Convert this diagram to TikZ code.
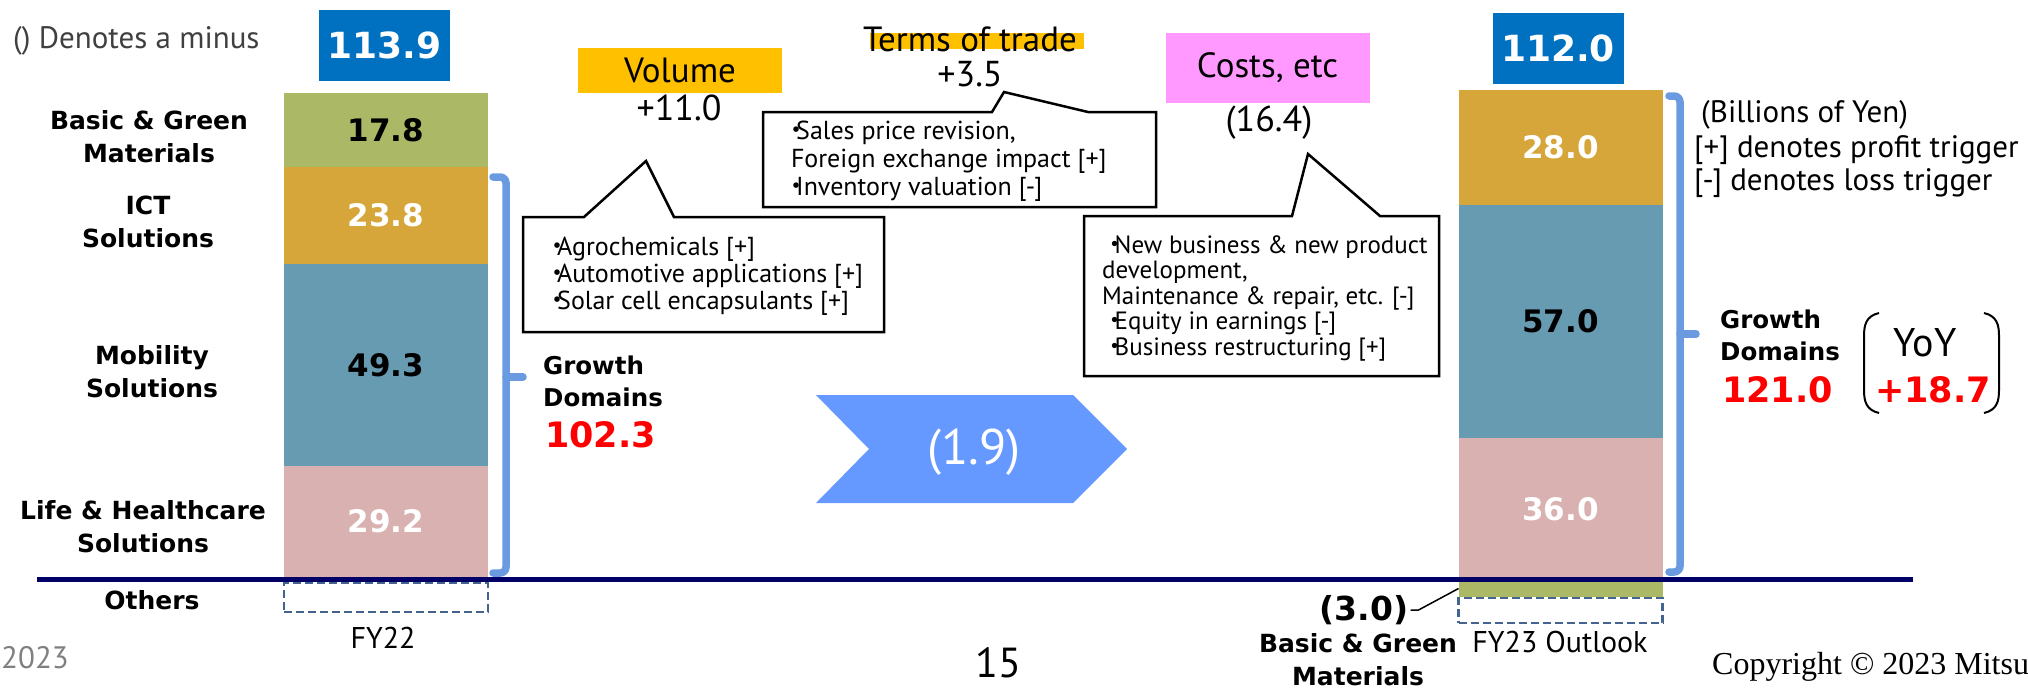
\documentclass[tikz,border=0pt]{standalone}
\usepackage{fontspec}
\setmainfont{PT Sans}
\newfontfamily\dvs{DejaVu Sans}
\newfontfamily\tms{Liberation Serif}
\newfontfamily\cjk{Noto Sans CJK JP}
\newcommand\itemdot{\makebox[0.5em][l]{\cjk ・}}
\definecolor{bgreen}{RGB}{171,185,102}
\definecolor{ictgold}{RGB}{214,166,59}
\definecolor{mobteal}{RGB}{103,155,178}
\definecolor{lifepink}{RGB}{218,177,177}
\definecolor{tblue}{RGB}{0,112,192}
\definecolor{volgold}{RGB}{255,192,0}
\definecolor{costpink}{RGB}{255,153,255}
\definecolor{chevblue}{RGB}{102,153,255}
\definecolor{bracecol}{RGB}{106,155,224}
\definecolor{basenavy}{RGB}{0,0,102}
\definecolor{dashcol}{RGB}{68,100,143}
\definecolor{notegray}{RGB}{64,64,64}
\begin{document}
\begin{tikzpicture}[x=1pt,y=-1pt]
\tikzstyle{seg} = [minimum width=204, inner sep=0, outer sep=0, font=\dvs\bfseries\fontsize{31}{31}\selectfont]
\tikzstyle{total} = [fill=tblue, text=white, minimum width=131, minimum height=71, inner sep=0, font=\dvs\bfseries\fontsize{36}{36}\selectfont]
\tikzstyle{lab} = [align=center, font=\dvs\bfseries\fontsize{25}{33}\selectfont]
\tikzstyle{bubble} = [draw=black, line width=2.5, fill=white]
\tikzstyle{note} = [align=left, anchor=west, inner sep=0]
\tikzstyle{factor} = [minimum width=204, inner sep=0, font=\fontsize{35}{35}\selectfont]
\tikzstyle{val} = [font=\fontsize{36}{36}\selectfont]
\tikzstyle{brace} = [draw=bracecol, line width=7.5, rounded corners=6, line cap=round]
\tikzstyle{others} = [draw=dashcol, line width=2.5, dash pattern=on 8 off 4, minimum width=204, inner sep=0]
\tikzstyle{growlab} = [align=left, anchor=west, inner sep=0, font=\dvs\bfseries\fontsize{24.5}{32}\selectfont]
\tikzstyle{redval} = [text=red, inner sep=0, font=\dvs\bfseries\fontsize{35}{35}\selectfont]
\tikzstyle{side} = [anchor=west, inner sep=0, font=\fontsize{31}{31}\selectfont]

\useasboundingbox (0,0) rectangle (2028,689);

% FY22 bar
\node[total] (t22) at (384.5,45.5) {113.9};
\node[seg, fill=bgreen, minimum height=74] (l1) at (386,130) {17.8};
\node[seg, fill=ictgold, minimum height=97, text=white] (l2) at (386,215.5) {23.8};
\node[seg, fill=mobteal, minimum height=202] (l3) at (386,365) {49.3};
\node[seg, fill=lifepink, minimum height=111, text=white] (l4) at (386,521.5) {29.2};
\node[others, minimum height=29] (l0) at (386,597.5) {};
\node[font=\fontsize{30}{30}\selectfont] (fy22) at (383,638) {FY22};

\node[lab] (bg) at (149,137) {Basic \& Green\\Materials};
\node[lab] (ict) at (148,222) {ICT\\Solutions};
\node[lab] (mob) at (152,372) {Mobility\\Solutions};
\node[lab] (life) at (143,527) {Life \& Healthcare\\Solutions};
\node[lab] (oth) at (152,600) {Others};
\node[anchor=west, inner sep=0, text=notegray, font=\fontsize{31}{31}\selectfont] (minus) at (13,41) {() Denotes a minus};

% FY23 bar
\node[total] (t23) at (1558,48) {112.0};
\node[seg, fill=ictgold, minimum height=115, text=white] (r2) at (1560.5,147.5) {28.0};
\node[seg, fill=mobteal, minimum height=233] (r3) at (1560.5,321.5) {57.0};
\node[seg, fill=lifepink, minimum height=142, text=white] (r4) at (1560.5,509) {36.0};
\node[seg, fill=bgreen, minimum height=17] (r1) at (1560.5,588.5) {};
\node[others, minimum height=25] (r0) at (1560.5,610.5) {};
\node[font=\fontsize{30}{30}\selectfont] (fy23) at (1560,642) {FY23 Outlook};
\node[inner sep=2, font=\dvs\bfseries\fontsize{33}{33}\selectfont] (m30) at (1364,610) {(3.0)};
\node[lab] (bg23) at (1358,660) {Basic \& Green\\Materials};
\draw[line width=1.5] (m30.east) -- ++(8,0) -- (r1.west);

% base line
\draw[basenavy, line width=5] (37,579) -- (1913,579);

% growth domains braces
\draw[brace] (493,177) -- (506,177) -- (506,573) -- (493,573);
\draw[brace] (506,377) -- (523,377);
\draw[brace] (1669,96) -- (1680,96) -- (1680,572) -- (1669,572);
\draw[brace] (1680,334) -- (1696,334);
\node[growlab] (gd22) at (543,381) {Growth\\Domains};
\node[redval, anchor=west] (v22) at (545,435) {102.3};
\node[growlab] (gd23) at (1720,335) {Growth\\Domains};
\node[redval, anchor=west] (v23) at (1722,390) {121.0};
\node[font=\fontsize{40}{40}\selectfont] (yoy) at (1925,343) {YoY};
\node[redval] (dyoy) at (1933,390) {+18.7};
\draw[line width=2] (1879,313) .. controls (1866,316) and (1864,325) .. (1864,336) -- (1864,390) .. controls (1864,401) and (1866,410) .. (1879,413);
\draw[line width=2] (1984,313) .. controls (1997,316) and (1999,325) .. (1999,336) -- (1999,390) .. controls (1999,401) and (1997,410) .. (1984,413);

% factors
\node[factor, fill=volgold, minimum height=45] (vol) at (680,70.5) {Volume};
\node[val] (dvol) at (679,108) {+11.0};
\fill[volgold] (870,33) rectangle (1084,49);
\node[font=\fontsize{35}{35}\selectfont] (tot) at (970,39) {Terms of trade};
\node[val] (dtot) at (970,74) {+3.5};
\node[factor, fill=costpink, minimum height=70] (cost) at (1267.5,68) {Costs, etc};
\node[val] (dcost) at (1269,123) {(16.4)};

% callouts
\draw[bubble] (523,217) -- (584,217) -- (646,161) -- (674,217) -- (884,217) -- (884,332) -- (523,332) -- cycle;
\node[note, font=\fontsize{26}{27}\selectfont] (nvol) at (544,276) {\itemdot Agrochemicals [+]\\\itemdot Automotive applications [+]\\\itemdot Solar cell encapsulants [+]};
\draw[bubble] (763,112) -- (992,112) -- (1004,92) -- (1088,112) -- (1156,112) -- (1156,207) -- (763,207) -- cycle;
\node[note, font=\fontsize{26}{28}\selectfont] (ntot) at (783,161.5) {\itemdot Sales price revision,\\\hspace{0.3em}Foreign exchange impact [+]\\\itemdot Inventory valuation [-]};
\draw[bubble] (1084,216) -- (1292,216) -- (1308,154) -- (1380,216) -- (1439,216) -- (1439,376) -- (1084,376) -- cycle;
\node[note, font=\fontsize{25}{25.5}\selectfont] (ncost) at (1102,298) {\itemdot New business \& new product\\development,\\Maintenance \& repair, etc. [-]\\\itemdot Equity in earnings [-]\\\itemdot Business restructuring [+]};

% net change
\fill[chevblue] (816,395) -- (1073,395) -- (1127,449) -- (1073,503) -- (816,503) -- (869,449) -- cycle;
\node[text=white, font=\fontsize{50}{50}\selectfont] (net) at (974,452) {(1.9)};

% notes
\node[side] (unit) at (1701,115) {(Billions of Yen)};
\node[side] (plus) at (1694,150) {[+] denotes profit trigger};
\node[side] (minus2) at (1694,183) {[-] denotes loss trigger};

% footer
\node[anchor=east, inner sep=0, text=gray, font=\fontsize{31}{31}\selectfont] (year) at (69,658) {2023};
\node[font=\fontsize{42}{42}\selectfont] (page) at (998,663) {15};
\node[anchor=west, inner sep=0, font=\tms\fontsize{32}{32}\selectfont] (copy) at (1712,667) {Copyright © 2023 Mitsu};
\end{tikzpicture}
\end{document}
